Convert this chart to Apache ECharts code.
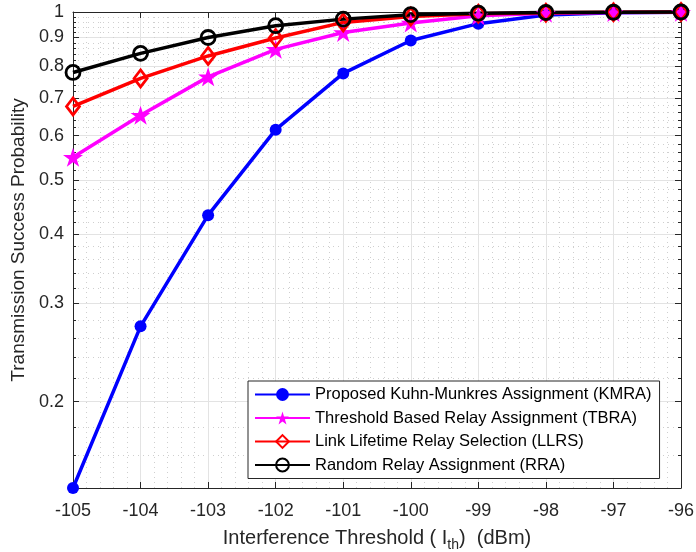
<!DOCTYPE html>
<html><head><meta charset="utf-8">
<script src="https://cdn.jsdelivr.net/npm/echarts@6/dist/echarts.min.js"></script>
<style>html,body{margin:0;padding:0;background:#fff}#c{width:696px;height:552px}</style>
</head><body><div id="c"></div>
<script>
const xValues = [-105, -104, -103, -102, -101, -100, -99, -98, -97, -96];
const kmra = [0.14, 0.273, 0.432, 0.615, 0.776, 0.889, 0.953, 0.988, 0.997, 0.999];
const tbra = [0.549, 0.653, 0.765, 0.857, 0.919, 0.956, 0.985, 0.995, 0.998, 0.999];
const llrs = [0.677, 0.760, 0.834, 0.898, 0.958, 0.982, 0.993, 0.997, 0.999, 1.0];
const rra  = [0.779, 0.843, 0.900, 0.945, 0.971, 0.989, 0.995, 0.998, 0.999, 1.0];
const seriesNames = [
  'Proposed Kuhn-Munkres Assignment (KMRA)',
  'Threshold Based Relay Assignment (TBRA)',
  'Link Lifetime Relay Selection (LLRS)',
  'Random Relay Assignment (RRA)'
];
const yMajorTicks = [0.2, 0.3, 0.4, 0.5, 0.6, 0.7, 0.8, 0.9, 1];
const yMinorTicks = [0.14, 0.16, 0.18, 0.22, 0.24, 0.26, 0.28, 0.32, 0.34, 0.36, 0.38,
  0.42, 0.44, 0.46, 0.48, 0.52, 0.54, 0.56, 0.58, 0.62, 0.64, 0.66, 0.68,
  0.72, 0.74, 0.76, 0.78, 0.82, 0.84, 0.86, 0.88, 0.92, 0.94, 0.96, 0.98];

const FONT = '"Liberation Sans", Arial, Helvetica, sans-serif';
const AX = '#262626';
const starPath = 'path://M100 0 L122.45 69.1 L195.1 69.1 L136.3 111.8 L158.8 180.9 L100 138.2 L41.2 180.9 L63.7 111.8 L4.9 69.1 L77.55 69.1 Z';

function mk(name, vals, color, symbol, size, itemStyle) {
  return {
    name: name, type: 'line', xAxisIndex: 0, yAxisIndex: 0,
    data: xValues.map((x, i) => [x, vals[i]]),
    symbol: symbol, symbolSize: size, symbolKeepAspect: true, clip: false,
    lineStyle: { color: color, width: 3.5 },
    itemStyle: itemStyle,
    emphasis: { disabled: true }
  };
}

const yBase = { type: 'log', logBase: 10, min: 0.14, max: 1, gridIndex: 0 };
const chart = echarts.init(document.getElementById('c'), null, { renderer: 'canvas' });
chart.setOption({
  animation: false,
  backgroundColor: '#fff',
  textStyle: { fontFamily: FONT },
  grid: { left: 73, right: 15, top: 12, bottom: 64, containLabel: false, outerBoundsMode: 'none' },
  legend: {
    orient: 'vertical', left: 248, top: 381,
    padding: [5, 8, 5, 6], itemWidth: 55, itemHeight: 16, itemGap: 6.5,
    backgroundColor: '#fff', borderColor: AX, borderWidth: 1,
    textStyle: { fontSize: 16.5, color: '#000', fontFamily: FONT },
    data: seriesNames
  },
  xAxis: [{
    type: 'value', min: -105, max: -96, interval: 1, position: 'bottom',
    axisLine: { show: true, onZero: false, lineStyle: { color: AX, width: 1 } },
    axisTick: { show: true, inside: true, length: 6, lineStyle: { color: AX } },
    axisLabel: { show: true, fontSize: 18, color: AX, margin: 14, fontFamily: FONT },
    splitLine: { show: true, lineStyle: { color: '#e3e3e3', width: 1 } },
    minorTick: { show: false, splitNumber: 5 },
    minorSplitLine: { show: true, lineStyle: { color: '#cfcfcf', width: 1, type: [1, 4] } },
    name: '{m|Interference Threshold ( I}{s|th}{m|)  (dBm)}',
    nameLocation: 'middle', nameGap: 36,
    nameTextStyle: {
      rich: {
        m: { fontSize: 20, color: AX, fontFamily: FONT },
        s: { fontSize: 14, color: AX, fontFamily: FONT, padding: [14, 0, 0, 0] }
      }
    }
  }, {
    type: 'value', min: -105, max: -96, interval: 1, position: 'top',
    axisLine: { show: true, onZero: false, lineStyle: { color: AX, width: 1 } },
    axisTick: { show: true, inside: true, length: 6, lineStyle: { color: AX } },
    axisLabel: { show: false }, splitLine: { show: false }
  }],
  yAxis: [Object.assign({}, yBase, {
    position: 'left',
    axisLine: { show: true, onZero: false, lineStyle: { color: AX, width: 1 } },
    axisTick: { show: true, inside: true, length: 6, customValues: yMajorTicks, lineStyle: { color: AX } },
    axisLabel: { show: true, fontSize: 18, color: AX, margin: 9, fontFamily: FONT,
      customValues: yMajorTicks, formatter: v => String(+(+v).toFixed(2)) },
    splitLine: { show: true, lineStyle: { color: '#e3e3e3', width: 1 } },
    name: 'Transmission Success Probability', nameLocation: 'middle', nameGap: 41,
    nameTextStyle: { fontSize: 19, color: AX, fontFamily: FONT, padding: [0, 0, 0, 20] }
  }), Object.assign({}, yBase, {
    position: 'right',
    axisLine: { show: true, onZero: false, lineStyle: { color: AX, width: 1 } },
    axisTick: { show: true, inside: true, length: 6, customValues: yMajorTicks, lineStyle: { color: AX } },
    axisLabel: { show: false }, splitLine: { show: false }
  }), Object.assign({}, yBase, {
    position: 'left',
    axisLine: { show: false },
    axisTick: { show: true, inside: true, length: 3, customValues: yMinorTicks, lineStyle: { color: AX } },
    axisLabel: { show: false },
    splitLine: { show: true, lineStyle: { color: '#cfcfcf', width: 1, type: [1, 4] } }
  }), Object.assign({}, yBase, {
    position: 'right',
    axisLine: { show: false },
    axisTick: { show: true, inside: true, length: 3, customValues: yMinorTicks, lineStyle: { color: AX } },
    axisLabel: { show: false }, splitLine: { show: false }
  })],
  series: [
    mk(seriesNames[0], kmra, '#0000ff', 'circle', 12, { color: '#0000ff' }),
    mk(seriesNames[1], tbra, '#ff00ff', starPath, 20, { color: '#ff00ff' }),
    mk(seriesNames[2], llrs, '#ff0000', 'diamond', [13, 17], { color: 'rgba(0,0,0,0)', borderColor: '#ff0000', borderWidth: 2.8 }),
    mk(seriesNames[3], rra, '#000000', 'circle', 14, { color: 'rgba(0,0,0,0)', borderColor: '#000000', borderWidth: 2.8 })
  ]
});
</script>
</body></html>
